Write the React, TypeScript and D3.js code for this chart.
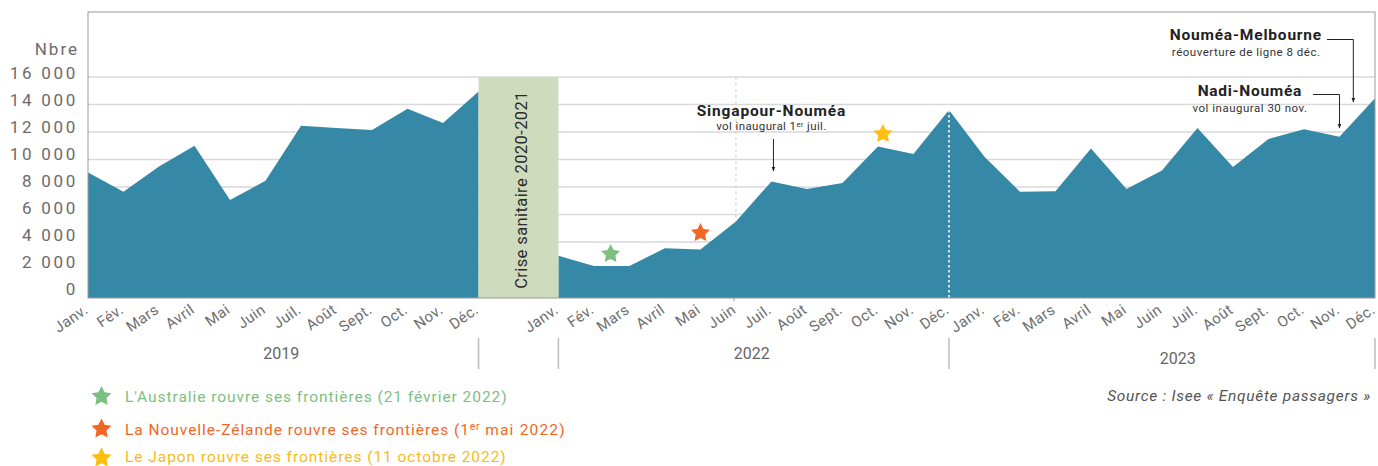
import React from "react";
import * as d3 from "d3";

const months = ["Janv.", "Fév.", "Mars", "Avril", "Mai", "Juin", "Juil.", "Août", "Sept.", "Oct.", "Nov.", "Déc."];
const years = ["2019", "2022", "2023"];
const v2019 = [9050, 7650, 9500, 11000, 7050, 8450, 12450, 12300, 12150, 13700, 12650, 14950];
const v2022 = [3000, 2250, 2250, 3550, 3450, 5500, 8400, 7850, 8300, 10950, 10400, 13600];
const v2023 = [10200, 7650, 7700, 10800, 7850, 9200, 12300, 9450, 11500, 12200, 11650, 14450];
const yTicks = [0, 2000, 4000, 6000, 8000, 10000, 12000, 14000, 16000];
const tickLabels = ["0", "2 000", "4 000", "6 000", "8 000", "10 000", "12 000", "14 000", "16 000"];

// stars (2022): month position (fractional), value
const stars = [
  { label: "L'Australie rouvre ses frontières (21 février 2022)", month: 1.47, value: 3200, color: "#7cbf80", text: "#7cbf80" },
  { label: "La Nouvelle-Zélande rouvre ses frontières (1", sup: "er", tail: " mai 2022)", month: 4, value: 4730, color: "#f26626", text: "#f26626" },
  { label: "Le Japon rouvre ses frontières (11 octobre 2022)", month: 9.14, value: 11930, color: "#fcbf12", text: "#f7bb17" },
];

const W = 1378, H = 466;
const L = 88, R = 1375, T = 12, B = 298;
const yearOffset = [0, 13.25, 25.25];

function starPath(r: number, inner = 0.5) {
  const line = d3.lineRadial<number>().angle((i) => (i * Math.PI) / 5).radius((i) => (i % 2 === 0 ? r : r * inner)).curve(d3.curveLinearClosed);
  return line(d3.range(10)) || "";
}

export default function App() {
  const x = d3.scaleLinear().domain([0, 36.25]).range([L, R]);
  const y = d3.scaleLinear().domain([0, 16000]).range([297, 77]);
  const pts = (vals: number[], yi: number) => vals.map((v, i) => ({ s: yearOffset[yi] + i, v }));
  const seg1 = pts(v2019, 0);
  const seg2 = [...pts(v2022, 1), ...pts(v2023, 2)];
  const area = d3.area<{ s: number; v: number }>().x((d) => x(d.s)).y0(B).y1((d) => y(d.v));

  const bandX0 = x(11), bandX1 = x(13.25);
  const decX = x(yearOffset[1] + 11);
  const juinX = x(yearOffset[1] + 5);
  const sepXs = [x(11), x(13.25), x(yearOffset[1] + 11), x(yearOffset[2] + 11)];
  const yearY = [359, 359, 364];

  const juilX = x(yearOffset[1] + 6);
  const novX = x(yearOffset[2] + 10);
  const melX = x(yearOffset[2] + 10.39);

  const font = "Roboto, 'Noto Sans', sans-serif";
  const legendBase = [402, 435, 461.5];
  const legendStar = [396.5, 429, 458];

  return (
    <svg width={W} height={H} style={{ position: "absolute", left: 0, top: 0, display: "block", background: "#fff" }} fontFamily={font}>
      <defs>
        <marker id="arr" viewBox="0 0 10 10" refX="9" refY="5" markerWidth="5" markerHeight="5" orient="auto">
          <path d="M0,1 L10,5 L0,9 z" fill="#222" />
        </marker>
      </defs>
      {/* gridlines */}
      {yTicks.map((t) => (
        <line key={t} x1={L} x2={R} y1={y(t)} y2={y(t)} stroke="#d9d9d9" strokeWidth={1.4} />
      ))}
      {/* y labels */}
      <text x={79} y={55} textAnchor="end" fontSize={17} fill="#6b6b6b" letterSpacing={2}>Nbre</text>
      {yTicks.map((t, i) => (
        <text key={t} x={78} y={y(t) + (t / 16000) * 4 - 2} textAnchor="end" fontSize={17} fill="#6b6b6b" letterSpacing={2.7}>
          {tickLabels[i]}
        </text>
      ))}
      {/* light dashed line at Juin 2022 */}
      <line x1={juinX} x2={juinX} y1={y(16000)} y2={B} stroke="#cfcfcf" strokeWidth={1} strokeDasharray="3,3" />
      {/* areas */}
      <path d={area(seg1) || ""} fill="#3589a6" />
      <path d={area(seg2) || ""} fill="#3589a6" />
      {/* white dotted line Dec 2022 */}
      <line x1={decX} x2={decX} y1={y(v2022[11])} y2={B} stroke="#ffffff" strokeWidth={1.5} strokeDasharray="2.5,2.5" />
      {/* crisis band */}
      <rect x={bandX0} y={y(16000)} width={bandX1 - bandX0} height={B - y(16000)} fill="#cedbbd" />
      <text
        transform={`translate(${(bandX0 + bandX1) / 2 + 9},${190}) rotate(-90)`}
        textAnchor="middle"
        fontSize={16.5}
        fill="#2a2a2a"
        letterSpacing={0.4}
      >
        Crise sanitaire 2020-2021
      </text>
      {/* frame */}
      <rect x={L} y={T} width={R - L} height={B - T} fill="none" stroke="#9a9a9a" strokeWidth={1} />
      {/* small tick */}
      <line x1={juinX - 2} x2={juinX - 2} y1={B} y2={B + 3} stroke="#999" strokeWidth={1} />
      {/* month labels */}
      {years.map((yr, yi) =>
        months.map((m, i) => {
          const px = x(yearOffset[yi] + i);
          return (
            <text
              key={yr + m}
              transform={`translate(${px + 1},${312}) rotate(-35)`}
              textAnchor="end"
              fontSize={15}
              fill="#6e6e6e"
              letterSpacing={0.4}
            >
              {m}
            </text>
          );
        })
      )}
      {/* year separators */}
      {sepXs.map((sx, i) => (
        <line key={i} x1={sx} x2={sx} y1={338} y2={369} stroke="#bdbdbd" strokeWidth={1.5} />
      ))}
      {years.map((yr, yi) => (
        <text key={yr} x={x(yearOffset[yi] + 5.5) - 2} y={yearY[yi]} textAnchor="middle" fontSize={16} fill="#666">
          {yr}
        </text>
      ))}
      {/* stars on chart */}
      {stars.map((s, i) => (
        <path key={i} d={starPath(10)} transform={`translate(${x(yearOffset[1] + s.month)},${y(s.value) + 1})`} fill={s.color} />
      ))}
      {/* Singapour annotation */}
      <text x={juilX} y={115.5} textAnchor="middle" fontSize={15.5} fontWeight={700} fill="#222" letterSpacing={0.85}>Singapour-Nouméa</text>
      <text x={juilX} y={130} textAnchor="middle" fontSize={11.5} fill="#333" letterSpacing={0.4}>
        vol inaugural 1<tspan fontSize={7.5} dy={-3.5}>er</tspan><tspan dy={3.5}> juil.</tspan>
      </text>
      <line x1={juilX + 2} x2={juilX + 2} y1={139} y2={171} stroke="#222" strokeWidth={1} markerEnd="url(#arr)" />
      {/* Melbourne */}
      <text x={1322} y={40} textAnchor="end" fontSize={15.5} fontWeight={700} fill="#222" letterSpacing={0.8}>Nouméa-Melbourne</text>
      <text x={1320.5} y={55.5} textAnchor="end" fontSize={11.5} fill="#333" letterSpacing={0.5}>réouverture de ligne 8 déc.</text>
      <path d={`M${1327},39.5 H${melX} V102`} fill="none" stroke="#222" strokeWidth={1} markerEnd="url(#arr)" />
      {/* Nadi */}
      <text x={1302} y={96} textAnchor="end" fontSize={15.5} fontWeight={700} fill="#222" letterSpacing={0.7}>Nadi-Nouméa</text>
      <text x={1307.5} y={111.5} textAnchor="end" fontSize={11.5} fill="#333" letterSpacing={0.5}>vol inaugural 30 nov.</text>
      <path d={`M${1313},94.5 H${novX} V128`} fill="none" stroke="#222" strokeWidth={1} markerEnd="url(#arr)" />
      {/* legend */}
      {stars.map((s, i) => (
        <g key={i}>
          <path d={starPath(10.5)} transform={`translate(101.5,${legendStar[i]})`} fill={s.color} />
          <text x={125} y={legendBase[i]} fontSize={15.5} fill={s.text} letterSpacing={0.95}>
            {s.label}
            {s.sup ? <tspan fontSize={10.5} dy={-5} letterSpacing={0.6}>{s.sup}</tspan> : null}
            {s.tail ? <tspan dy={5} letterSpacing={1.2}>{s.tail}</tspan> : null}
          </text>
        </g>
      ))}
      {/* source */}
      <text x={1371} y={401} textAnchor="end" fontSize={15.5} fontStyle="italic" fill="#555" letterSpacing={0.7}>
        Source : Isee « Enquête passagers »
      </text>
    </svg>
  );
}
